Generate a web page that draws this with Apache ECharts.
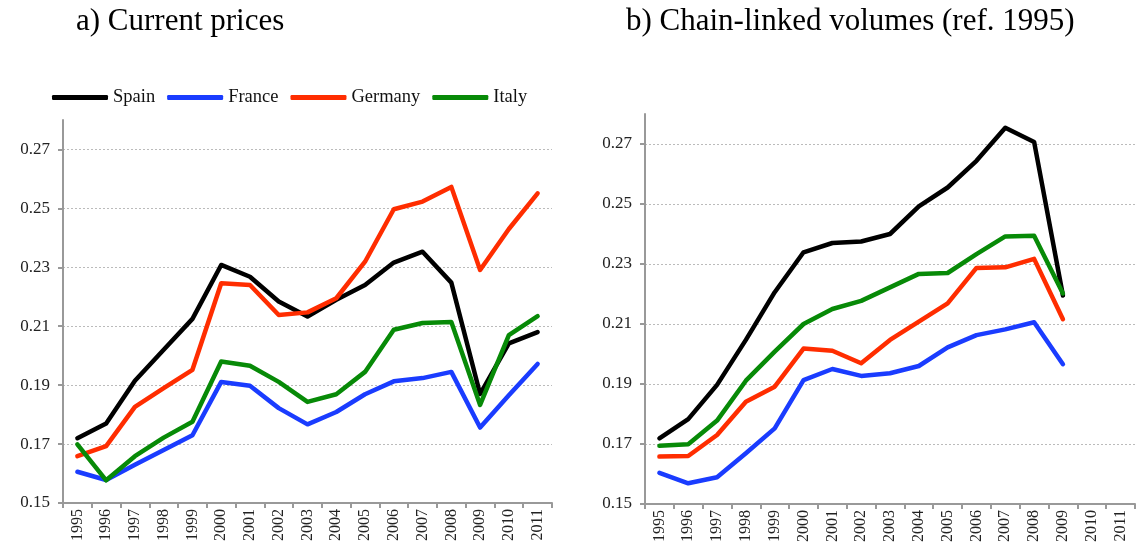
<!DOCTYPE html>
<html>
<head>
<meta charset="utf-8">
<script src="https://cdn.jsdelivr.net/npm/echarts@6/dist/echarts.min.js"></script>
<style>
  html, body { margin: 0; padding: 0; background: #fff; }
  #chart { width: 1137px; height: 557px; }
</style>
</head>
<body>
<div id="chart"></div>
<script>
const years = ["1995", "1996", "1997", "1998", "1999", "2000", "2001", "2002", "2003",
  "2004", "2005", "2006", "2007", "2008", "2009", "2010", "2011"];
const countries = ["Spain", "France", "Germany", "Italy"];
const colors = ["#000000", "#1a3cff", "#ff2d00", "#078a07"];

// a) current prices
const spainCurrent = [0.172, 0.177, 0.1915, 0.202, 0.2125, 0.2308, 0.2268, 0.2184, 0.2133, 0.219, 0.224, 0.2316, 0.2353, 0.2248, 0.187, 0.2042, 0.208];
const franceCurrent = [0.1606, 0.1578, 0.163, 0.168, 0.173, 0.1911, 0.1898, 0.1822, 0.1767, 0.1809, 0.1869, 0.1913, 0.1924, 0.1945, 0.1756, 0.1866, 0.1972];
const germanyCurrent = [0.1659, 0.1693, 0.1826, 0.189, 0.1952, 0.2246, 0.224, 0.2138, 0.2147, 0.2195, 0.2319, 0.2497, 0.2523, 0.2573, 0.2291, 0.243, 0.2551];
const italyCurrent = [0.1699, 0.1577, 0.1659, 0.1722, 0.1776, 0.198, 0.1966, 0.1911, 0.1843, 0.1869, 0.1945, 0.2088, 0.2111, 0.2114, 0.1833, 0.207, 0.2134];

// b) chain-linked volumes (ref. 1995), data ends in 2009
const spainVolume = [0.1719, 0.1783, 0.1897, 0.2047, 0.2206, 0.2339, 0.237, 0.2375, 0.24, 0.2492, 0.2555, 0.2644, 0.2754, 0.2707, 0.2195];
const franceVolume = [0.1604, 0.1569, 0.1589, 0.1669, 0.1752, 0.1913, 0.195, 0.1927, 0.1936, 0.196, 0.2022, 0.2063, 0.2082, 0.2106, 0.1966];
const germanyVolume = [0.1658, 0.166, 0.173, 0.1841, 0.1891, 0.2018, 0.2011, 0.1969, 0.2047, 0.2108, 0.2169, 0.2287, 0.2289, 0.2317, 0.2116];
const italyVolume = [0.1694, 0.1699, 0.1778, 0.1911, 0.2008, 0.21, 0.215, 0.2177, 0.2222, 0.2267, 0.227, 0.2333, 0.2392, 0.2394, 0.2202];

const yMin = 0.15, yMax = 0.28, yStep = 0.02;

const serif = "'Liberation Serif', 'DejaVu Serif', serif";
const current = [spainCurrent, franceCurrent, germanyCurrent, italyCurrent];
const volume = [spainVolume, franceVolume, germanyVolume, italyVolume];

function xAxis(gridIndex) {
  return {
    type: "category",
    gridIndex,
    data: years,
    boundaryGap: true,
    axisLine: { lineStyle: { color: "#999", width: 2 } },
    axisTick: { show: true, length: 5, lineStyle: { color: "#999", width: 2 } },
    axisLabel: { rotate: 90, interval: 0, color: "#222", fontFamily: serif, fontSize: 16, margin: 6 }
  };
}

function yAxis(gridIndex) {
  return {
    type: "value",
    gridIndex,
    min: yMin,
    max: yMax,
    interval: yStep,
    axisLine: { show: true, lineStyle: { color: "#999", width: 2 } },
    axisTick: { show: true, length: 5, lineStyle: { color: "#999", width: 2 } },
    axisLabel: {
      color: "#222", fontFamily: serif, fontSize: 17, margin: 13,
      showMaxLabel: false,
      formatter: (v) => v.toFixed(2)
    },
    splitLine: { show: true, showMaxLine: false, showMinLine: false, lineStyle: { color: "#bbb", type: [2, 2], width: 1 } }
  };
}

function lines(sets, index) {
  return sets.map((data, i) => ({
    name: countries[i],
    type: "line",
    xAxisIndex: index,
    yAxisIndex: index,
    data,
    symbol: "none",
    lineStyle: { color: colors[i], width: 4.5, cap: "round", join: "round" },
    itemStyle: { color: colors[i] },
    z: 2 + i
  }));
}

const chart = echarts.init(document.getElementById("chart"));
chart.setOption({
  animation: false,
  title: [
    { text: "a) Current prices", left: 71, top: 1, textStyle: { fontFamily: serif, fontWeight: "normal", fontSize: 31, color: "#000" } },
    { text: "b) Chain-linked volumes (ref. 1995)", left: 621, top: 1, textStyle: { fontFamily: serif, fontWeight: "normal", fontSize: 31, color: "#000" } }
  ],
  legend: {
    data: countries,
    left: 47,
    top: 83,
    icon: "roundRect",
    itemWidth: 56,
    itemHeight: 5,
    itemGap: 12,
    textStyle: { fontFamily: serif, fontSize: 18.5, color: "#111" }
  },
  grid: [
    { left: 63, right: 585, top: 120, bottom: 54 },
    { left: 645, right: 2, top: 114, bottom: 53 }
  ],
  xAxis: [xAxis(0), xAxis(1)],
  yAxis: [yAxis(0), yAxis(1)],
  series: [...lines(current, 0), ...lines(volume, 1)]
});
</script>
</body>
</html>
